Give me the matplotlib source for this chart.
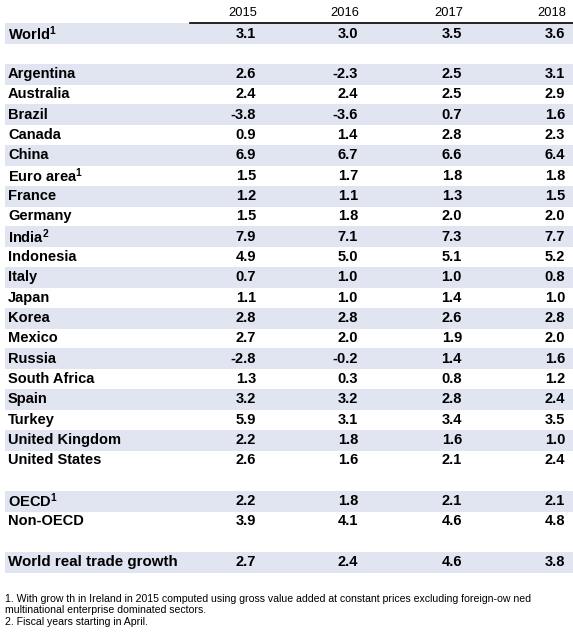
import matplotlib.pyplot as plt
from matplotlib.patches import Rectangle

plt.rcParams['font.family'] = ['Liberation Sans', 'DejaVu Sans']
plt.rcParams['mathtext.fontset'] = 'custom'
plt.rcParams['mathtext.bf'] = 'Liberation Sans:bold'
plt.rcParams['mathtext.rm'] = 'Liberation Sans'
plt.rcParams['mathtext.default'] = 'bf'

years = ['2015', '2016', '2017', '2018']

world_label = r'World$^1$'
world = [3.1, 3.0, 3.5, 3.6]

countries = ['Argentina', 'Australia', 'Brazil', 'Canada', 'China',
             r'Euro area$^1$', 'France', 'Germany', r'India$^2$', 'Indonesia',
             'Italy', 'Japan', 'Korea', 'Mexico', 'Russia', 'South Africa',
             'Spain', 'Turkey', 'United Kingdom', 'United States']
v2015 = [2.6, 2.4, -3.8, 0.9, 6.9, 1.5, 1.2, 1.5, 7.9, 4.9,
         0.7, 1.1, 2.8, 2.7, -2.8, 1.3, 3.2, 5.9, 2.2, 2.6]
v2016 = [-2.3, 2.4, -3.6, 1.4, 6.7, 1.7, 1.1, 1.8, 7.1, 5.0,
         1.0, 1.0, 2.8, 2.0, -0.2, 0.3, 3.2, 3.1, 1.8, 1.6]
v2017 = [2.5, 2.5, 0.7, 2.8, 6.6, 1.8, 1.3, 2.0, 7.3, 5.1,
         1.0, 1.4, 2.6, 1.9, 1.4, 0.8, 2.8, 3.4, 1.6, 2.1]
v2018 = [3.1, 2.9, 1.6, 2.3, 6.4, 1.8, 1.5, 2.0, 7.7, 5.2,
         0.8, 1.0, 2.8, 2.0, 1.6, 1.2, 2.4, 3.5, 1.0, 2.4]

groups = [r'OECD$^1$', 'Non-OECD']
groups_vals = [[2.2, 1.8, 2.1, 2.1], [3.9, 4.1, 4.6, 4.8]]

trade_label = 'World real trade growth'
trade = [2.7, 2.4, 4.6, 3.8]

notes = ['1. With grow th in Ireland in 2015 computed using gross value added at constant prices excluding foreign-ow ned',
         'multinational enterprise dominated sectors.',
         '2. Fiscal years starting in April.']

# --- layout (pixels) ---
W, H = 573, 638
band = '#e1e4f1'
col_x = [256, 358, 462, 565]
label_x = 8
fs = 10.5
step = 20.33

fig = plt.figure(figsize=(W / 100, H / 100), dpi=100)
ax = fig.add_axes([0, 0, 1, 1])
ax.set_xlim(0, W)
ax.set_ylim(H, 0)
ax.axis('off')


def row(y, label, vals, shaded, size=fs):
    if shaded:
        ax.add_patch(Rectangle((5, y - 10.5), W - 5, 21, color=band, lw=0))
    ax.text(label_x, y, label, fontsize=size, fontweight='bold', va='center', ha='left')
    for x, v in zip(col_x, vals):
        ax.text(x, y, f'{v:.1f}', fontsize=fs, fontweight='bold', va='center', ha='right')


# header
for x, yr in zip(col_x, years):
    ax.text(x + 1, 13, yr, fontsize=9.3, va='center', ha='right')
ax.plot([190, W], [22.5, 22.5], color='black', lw=1.2)

y0 = 33.5
row(y0, world_label, world, True)

vals = list(zip(v2015, v2016, v2017, v2018))
for i, (c, v) in enumerate(zip(countries, vals)):
    row(y0 + (i + 2) * step, c, v, i % 2 == 0)

row(y0 + 23 * step, groups[0], groups_vals[0], True)
row(y0 + 24 * step, groups[1], groups_vals[1], False)

row(y0 + 26 * step, trade_label, trade, True, size=10.9)

for i, n in enumerate(notes):
    ax.text(5, 599 + i * 11.3, n, fontsize=7.6, va='center', ha='left')

fig.savefig('out.png', dpi=100)
